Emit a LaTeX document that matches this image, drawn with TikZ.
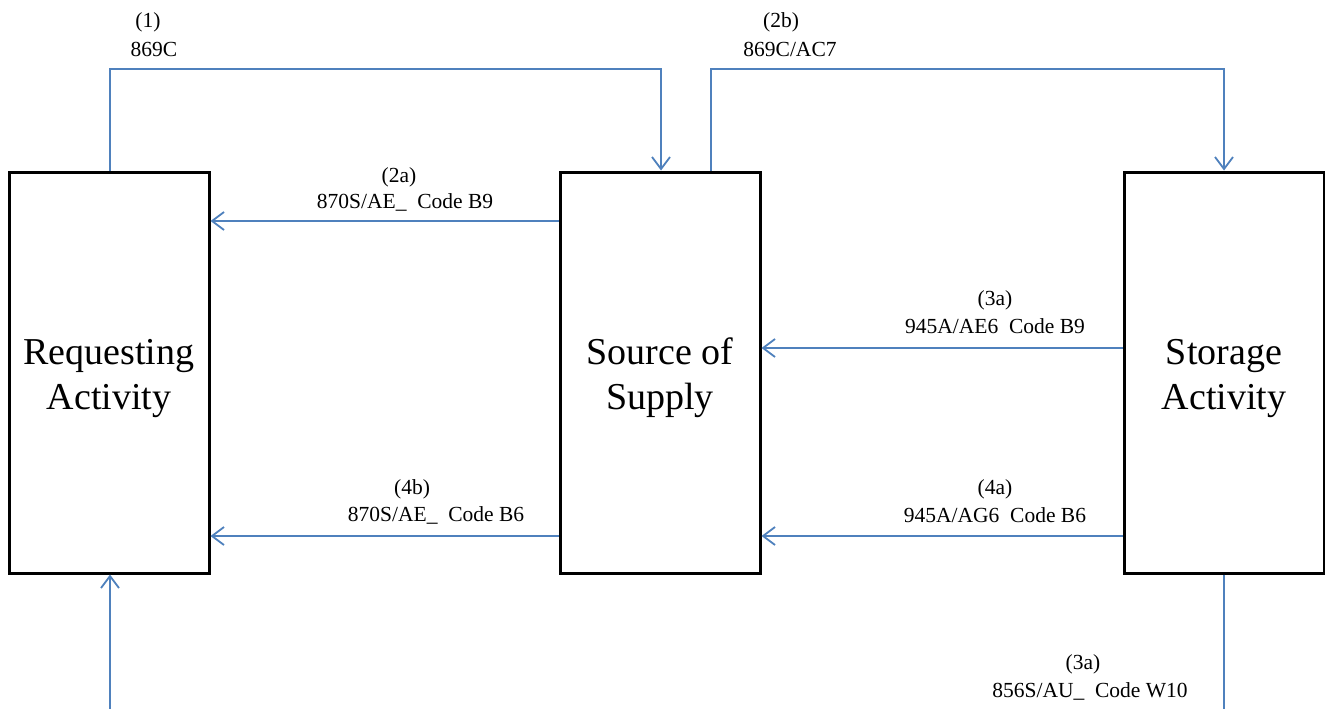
\documentclass[tikz,border=0pt]{standalone}
\usepackage{fontspec}
\setmainfont{Liberation Serif}
\usetikzlibrary{arrows.meta}
\definecolor{flow}{HTML}{4F81BD}
\newcommand{\boxlift}{\rule{0pt}{38pt}}
\begin{document}
\begin{tikzpicture}[x=1pt,y=-1pt,
  box/.style={draw=black,line width=3pt,minimum width=200pt,minimum height=401pt,inner sep=0pt,align=center,font=\fontsize{38}{45}\selectfont},
  flowline/.style={draw=flow,line width=1.8pt},
  flowarr/.style={flowline,-{Straight Barb[length=12pt,width=18pt]}},
  lab/.style={font=\fontsize{21.5}{26}\selectfont,inner sep=0pt}]
\fill[white] (0,0) rectangle (1325,709);
\useasboundingbox (0,0) rectangle (1325,709);

\node[box] (req) at (109,372.5) {\boxlift Requesting\\Activity};
\node[box] (src) at (660,372.5) {\boxlift Source of\\Supply};
\node[box] (sto) at (1224,372.5) {\boxlift Storage\\Activity};

% (1)
\coordinate (t1) at (110,69);
\coordinate (t2) at (661,69);
\draw[flowarr] (req.north -| t1) -- (t1) -- (t2) -- (src.north -| t2);
\node[lab] (l1a) at (148,22) {(1)};
\node[lab] (l1b) at (154,49) {869C};

% (2b)
\coordinate (t3) at (711,69);
\coordinate (t4) at (1224,69);
\draw[flowarr] (src.north -| t3) -- (t3) -- (t4) -- (sto.north -| t4);
\node[lab] (l2ba) at (781,22) {(2b)};
\node[lab] (l2bb) at (790,49) {869C/AC7};

% (2a)
\coordinate (h1) at (0,221);
\draw[flowarr] (src.west |- h1) -- (req.east |- h1);
\node[lab] (l2aa) at (399,177) {(2a)};
\node[lab] (l2ab) at (405,202) {870S/AE\_~ Code B9};

% (3a)
\coordinate (h2) at (0,348);
\draw[flowarr] (sto.west |- h2) -- (src.east |- h2);
\node[lab] (l3aa) at (995,300) {(3a)};
\node[lab] (l3ab) at (995,326) {945A/AE6~ Code B9};

% (4a)
\coordinate (h3) at (0,536);
\draw[flowarr] (sto.west |- h3) -- (src.east |- h3);
\node[lab] (l4aa) at (995,489) {(4a)};
\node[lab] (l4ab) at (995,515) {945A/AG6~ Code B6};

% (4b)
\draw[flowarr] (src.west |- h3) -- (req.east |- h3);
\node[lab] (l4ba) at (412,489) {(4b)};
\node[lab] (l4bb) at (436,515) {870S/AE\_~ Code B6};

% bottom
\coordinate (b1) at (110,709);
\draw[flowarr] (b1) -- (req.south -| b1);
\coordinate (b2) at (1224,709);
\draw[flowline] (sto.south -| b2) -- (b2);
\node[lab] (l3ca) at (1083,664) {(3a)};
\node[lab] (l3cb) at (1090,691) {856S/AU\_~ Code W10};
\end{tikzpicture}
\end{document}
